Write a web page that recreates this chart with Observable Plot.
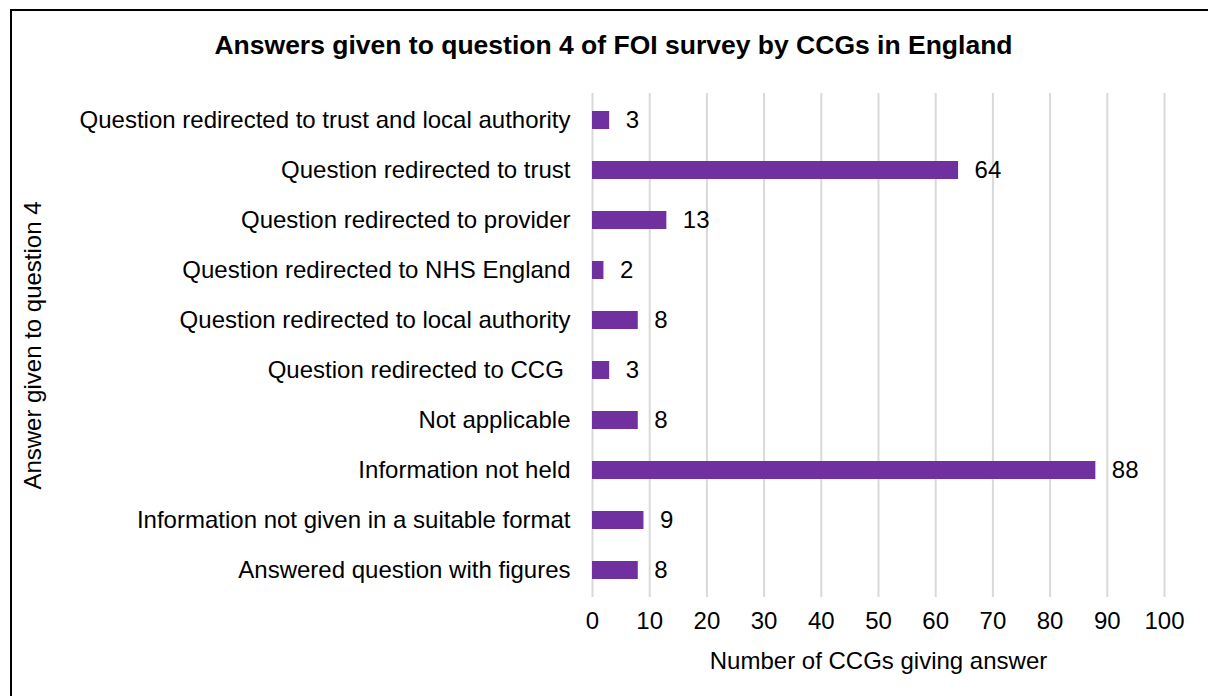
<!DOCTYPE html>
<html>
<head>
<meta charset="utf-8">
<script src="https://cdn.jsdelivr.net/npm/d3@7"></script>
<script src="https://cdn.jsdelivr.net/npm/@observablehq/plot@0.6"></script>
<style>
  html, body { margin: 0; padding: 0; background: #fff; overflow: hidden; }
  #wrap { position: relative; width: 1208px; height: 696px; }
  #frame { position: absolute; left: 10px; top: 9px; width: 1260px; height: 760px; border: 2px solid #000; box-sizing: border-box; }
  #chart { position: absolute; left: 0; top: 0; }
</style>
</head>
<body>
<div id="wrap"><div id="frame"></div><div id="chart"></div></div>
<script>
const categories = [
  "Question redirected to trust and local authority",
  "Question redirected to trust",
  "Question redirected to provider",
  "Question redirected to NHS England",
  "Question redirected to local authority",
  "Question redirected to CCG ",
  "Not applicable",
  "Information not held",
  "Information not given in a suitable format",
  "Answered question with figures"
];
const values = [3, 64, 13, 2, 8, 3, 8, 88, 9, 8];
const xTicks = [0, 10, 20, 30, 40, 50, 60, 70, 80, 90, 100];
const title = "Answers given to question 4 of FOI survey by CCGs in England";
const xLabel = "Number of CCGs giving answer";
const yLabel = "Answer given to question 4";

const data = categories.map((c, i) => ({category: c, value: values[i]}));
const font = "Arial, 'Liberation Sans', sans-serif";
const fs = 24;

const chart = Plot.plot({
  width: 1208,
  height: 696,
  marginLeft: 592,
  marginRight: 44,
  marginTop: 93,
  marginBottom: 99,
  style: {fontFamily: font, fontSize: fs + "px", color: "#000", background: "transparent"},
  x: {domain: [0, 100], ticks: xTicks},
  y: {domain: categories, paddingInner: 0.65, paddingOuter: 0.325},
  marks: [
    Plot.ruleX(xTicks, {stroke: "#d9d9d9", strokeWidth: 2}),
    Plot.barX(data, {x: "value", y: "category", fill: "#7030A0"}),
    Plot.text(data, {x: "value", y: "category", text: d => String(d.value), textAnchor: "start", dx: 16, fontSize: fs, fill: "#000"}),
    Plot.axisY({tickSize: 0, tickPadding: 22, fontSize: fs, label: null}),
    Plot.axisX({ticks: xTicks, tickSize: 0, tickPadding: 14, fontSize: fs, label: null}),
    Plot.text([xLabel], {frameAnchor: "bottom", lineAnchor: "middle", dy: 64, fontSize: fs, fill: "#000"}),
    Plot.text([yLabel], {frameAnchor: "left", textAnchor: "middle", lineAnchor: "middle", dx: -559, rotate: -90, fontSize: fs, fill: "#000"}),
    Plot.text([title], {frameAnchor: "top", lineAnchor: "middle", dy: -48, dx: -265, fontSize: 26.5, fontWeight: "bold", fill: "#000"})
  ]
});
document.getElementById("chart").appendChild(chart);
</script>
</body>
</html>
